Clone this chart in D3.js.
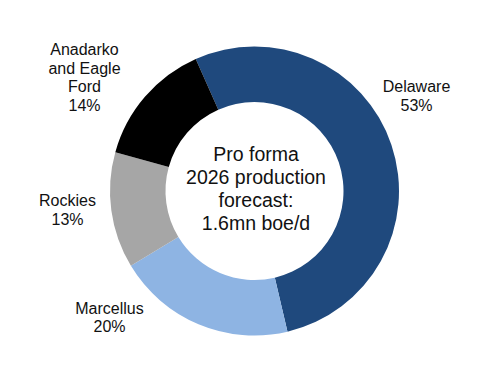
<!DOCTYPE html>
<html>
<head>
<meta charset="utf-8">
<script src="https://cdn.jsdelivr.net/npm/d3@7"></script>
<style>
  html, body { margin: 0; padding: 0; background: #fff; }
  svg text { font-family: "Liberation Sans", Arial, sans-serif; fill: #111; }
</style>
</head>
<body>
<svg id="chart" width="500" height="386"></svg>
<script>
// ---- data ----
const categories = ["Delaware", "Marcellus", "Rockies", "Anadarko and Eagle Ford"];
const labelLines = [["Delaware"], ["Marcellus"], ["Rockies"], ["Anadarko", "and Eagle", "Ford"]];
const shares = [53, 20, 13, 14];
const centerText = ["Pro forma", "2026 production", "forecast:", "1.6mn boe/d"];

// ---- style / layout ----
const colors = ["#1F497D", "#8EB4E3", "#A6A6A6", "#000000"];
const cx = 254.5, cy = 191, outerR = 144.5, innerR = 89;
const startDeg = -24;
const labelOffsets = [[162, -95], [-145, 126.5], [-187, 19], [-170, -113.5]];
const labelFont = 16, labelLH = 18.5;
const centerFont = 19.5, centerLH = 23;

const svg = d3.select("#chart");
const g = svg.append("g").attr("transform", `translate(${cx},${cy})`);

const pie = d3.pie().sort(null).value(d => d)
  .startAngle(startDeg * Math.PI / 180)
  .endAngle(startDeg * Math.PI / 180 + 2 * Math.PI);
const arc = d3.arc().innerRadius(innerR).outerRadius(outerR);

const arcs = pie(shares);
g.selectAll("path.slice").data(arcs).enter().append("path")
  .attr("class", "slice")
  .attr("d", arc)
  .attr("fill", (d, i) => colors[i]);

// labels
arcs.forEach((d, i) => {
  const lines = labelLines[i].concat([shares[i] + "%"]);
  const [ox, oy] = labelOffsets[i];
  const t = g.append("text")
    .attr("text-anchor", "middle")
    .attr("font-size", labelFont);
  const n = lines.length;
  lines.forEach((ln, k) => {
    t.append("tspan")
      .attr("x", ox)
      .attr("y", oy + (k - (n - 1) / 2) * labelLH)
      .attr("dy", "0.35em")
      .text(ln);
  });
});

// center text
const ct = g.append("text").attr("text-anchor", "middle").attr("font-size", centerFont);
centerText.forEach((ln, k) => {
  ct.append("tspan")
    .attr("x", 1.5)
    .attr("y", -2 + (k - (centerText.length - 1) / 2) * centerLH)
    .attr("dy", "0.35em")
    .text(ln);
});
</script>
</body>
</html>
